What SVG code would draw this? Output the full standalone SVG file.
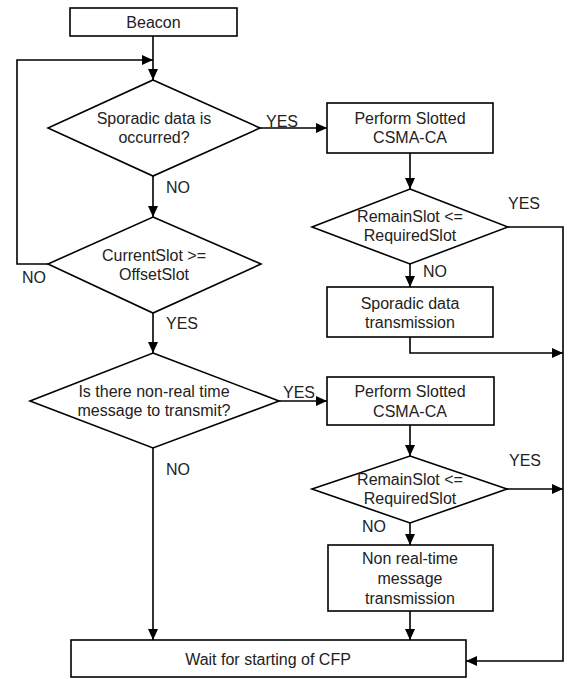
<svg xmlns="http://www.w3.org/2000/svg" width="571" height="679" viewBox="0 0 571 679">
<style>
.n{fill:#fff;stroke:#000;stroke-width:1.6}
.c{fill:none;stroke:#000;stroke-width:1.6}
text{font-family:"Liberation Sans",Arial,sans-serif;font-size:16px;fill:#222}
.m{text-anchor:middle}
</style>
<defs>
<marker id="a" markerUnits="userSpaceOnUse" markerWidth="12" markerHeight="10" refX="11" refY="5" orient="auto">
<path d="M0,0 L11,5 L0,10 Z" fill="#000"/>
</marker>
</defs>
<rect width="571" height="679" fill="#fff"/>
<g id="connectors">
<path class="c" d="M153,36 V80" marker-end="url(#a)"/>
<path class="c" d="M48,264 H17 V60 H153" marker-end="url(#a)"/>
<path class="c" d="M153,176 V217" marker-end="url(#a)"/>
<path class="c" d="M153,313 V353" marker-end="url(#a)"/>
<path class="c" d="M153,448 V640" marker-end="url(#a)"/>
<path class="c" d="M260,128 H327" marker-end="url(#a)"/>
<path class="c" d="M410,153 V189" marker-end="url(#a)"/>
<path class="c" d="M410,264 V287" marker-end="url(#a)"/>
<path class="c" d="M508,227 H563 V661 H466" marker-end="url(#a)"/>
<path class="c" d="M410,337 V353 H563" marker-end="url(#a)"/>
<path class="c" d="M279,401 H327" marker-end="url(#a)"/>
<path class="c" d="M410,425 V456" marker-end="url(#a)"/>
<path class="c" d="M507,489 H563" marker-end="url(#a)"/>
<path class="c" d="M410,523 V545" marker-end="url(#a)"/>
<path class="c" d="M410,611 V640" marker-end="url(#a)"/>
<text x="266" y="127">YES</text>
<text x="166" y="193">NO</text>
<text x="22" y="283">NO</text>
<text x="166" y="329">YES</text>
<text x="283" y="398">YES</text>
<text x="166" y="475">NO</text>
<text x="508" y="209">YES</text>
<text x="423" y="277">NO</text>
<text x="509" y="466">YES</text>
<text x="362" y="532">NO</text>
</g>
<g id="beacon">
<rect class="n" x="70" y="8" width="167" height="28"/>
<text class="m" x="153.5" y="28">Beacon</text>
</g>
<g id="sporadic-decision">
<path class="n" d="M153,80 L260,128 L153,176 L48,128 Z"/>
<text class="m" x="154" y="124">Sporadic data is</text>
<text class="m" x="154" y="143">occurred?</text>
</g>
<g id="slot-decision">
<path class="n" d="M153,217 L261,264 L153,313 L48,264 Z"/>
<text class="m" x="154" y="261">CurrentSlot &gt;=</text>
<text class="m" x="154" y="280">OffsetSlot</text>
</g>
<g id="nrt-decision">
<path class="n" d="M153,353 L279,401 L153,448 L30,401 Z"/>
<text class="m" x="154" y="397">Is there non-real time</text>
<text class="m" x="154" y="416">message to transmit?</text>
</g>
<g id="csma1">
<rect class="n" x="327" y="103" width="166" height="50"/>
<text class="m" x="410" y="124">Perform Slotted</text>
<text class="m" x="410" y="143">CSMA-CA</text>
</g>
<g id="remain1">
<path class="n" d="M410,189 L508,227 L410,264 L312,227 Z"/>
<text class="m" x="410" y="222">RemainSlot &lt;=</text>
<text class="m" x="410" y="241">RequiredSlot</text>
</g>
<g id="sporadic-tx">
<rect class="n" x="327" y="287" width="166" height="50"/>
<text class="m" x="410" y="309">Sporadic data</text>
<text class="m" x="410" y="328">transmission</text>
</g>
<g id="csma2">
<rect class="n" x="327" y="377" width="167" height="48"/>
<text class="m" x="410" y="397">Perform Slotted</text>
<text class="m" x="410" y="417">CSMA-CA</text>
</g>
<g id="remain2">
<path class="n" d="M410,456 L507,489 L410,523 L312,489 Z"/>
<text class="m" x="410" y="485">RemainSlot &lt;=</text>
<text class="m" x="410" y="504">RequiredSlot</text>
</g>
<g id="nrt-tx">
<rect class="n" x="328" y="545" width="165" height="66"/>
<text class="m" x="410" y="564">Non real-time</text>
<text class="m" x="410" y="584">message</text>
<text class="m" x="410" y="604">transmission</text>
</g>
<g id="wait-cfp">
<rect class="n" x="71" y="640" width="395" height="37"/>
<text class="m" x="268" y="665">Wait for starting of CFP</text>
</g>
</svg>
